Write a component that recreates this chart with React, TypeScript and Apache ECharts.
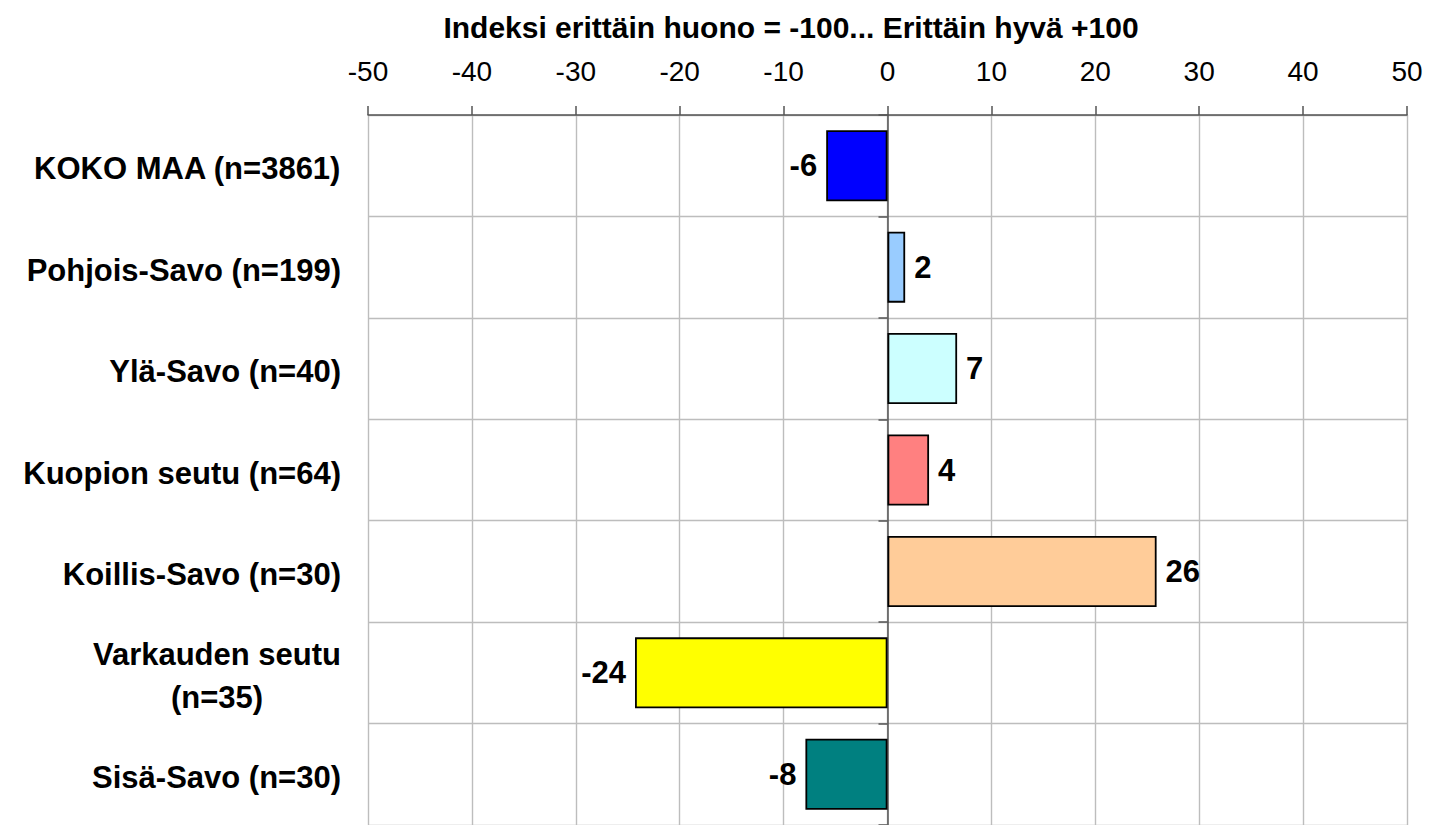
import React, { useEffect, useRef } from "react";
import * as echarts from "echarts";

const categories = [
  "KOKO MAA (n=3861)",
  "Pohjois-Savo (n=199)",
  "Ylä-Savo (n=40)",
  "Kuopion seutu (n=64)",
  "Koillis-Savo (n=30)",
  "Varkauden seutu\n(n=35)",
  "Sisä-Savo (n=30)",
];
const values = [-5.9, 1.7, 6.7, 4.0, 25.9, -24.3, -7.9];
const colors = ["#0000FF", "#99CCFF", "#CCFFFF", "#FF8080", "#FFCC99", "#FFFF00", "#008080"];
const titleText = "Indeksi erittäin huono = -100... Erittäin hyvä +100";
const axisMin = -50;
const axisMax = 50;
const axisStep = 10;

const FONT = '"Liberation Sans", Arial, Helvetica, sans-serif';

export default function App() {
  const ref = useRef<HTMLDivElement>(null);
  useEffect(() => {
    if (!ref.current) return;
    const chart = echarts.init(ref.current, null, { renderer: "svg" });
    chart.setOption({
      animation: false,
      backgroundColor: "#ffffff",
      graphic: [
        {
          type: "text",
          x: 791,
          y: 27,
          style: {
            text: titleText,
            fill: "#000",
            font: `bold 30px ${FONT}`,
            textAlign: "center",
            textVerticalAlign: "middle",
          },
        },
      ],
      grid: { left: 368, right: 22, top: 115, bottom: -8, containLabel: false },
      xAxis: {
        type: "value",
        position: "top",
        min: axisMin,
        max: axisMax,
        interval: axisStep,
        axisLine: { show: true, onZero: false, lineStyle: { color: "#555", width: 1.5 } },
        axisTick: { show: true, length: 9, inside: false, lineStyle: { color: "#555", width: 1.5 } },
        axisLabel: { show: true, margin: 30, fontSize: 28, fontFamily: FONT, color: "#000" },
        splitLine: { show: true, lineStyle: { color: "#bdbdbd", width: 1.4 } },
      },
      yAxis: [
        {
          type: "category",
          data: categories,
          inverse: true,
          axisLine: { show: false, onZero: false },
          axisTick: { show: false },
          splitLine: { show: true, lineStyle: { color: "#bdbdbd", width: 1.4 } },
          axisLabel: {
            margin: 27,
            align: "right",
            padding: [6, 0, 0, 0],
            formatter: (v: string) =>
              v
                .split("\n")
                .map((s) => `{c|${s}}`)
                .join("\n"),
            rich: {
              c: {
                align: "center",
                fontSize: 31,
                fontWeight: "bold",
                fontFamily: FONT,
                color: "#000",
                lineHeight: 43,
              },
            },
          },
        },
        {
          type: "category",
          data: categories,
          inverse: true,
          position: "left",
          axisLine: { show: true, onZero: true, lineStyle: { color: "#555", width: 1.5 } },
          axisTick: { show: true, length: 9, inside: false, lineStyle: { color: "#555", width: 1.5 } },
          axisLabel: { show: false },
          splitLine: { show: false },
        },
      ],
      series: [
        {
          type: "bar",
          yAxisIndex: 0,
          barWidth: "70%",
          data: values.map((v, i) => ({
            value: v,
            itemStyle: { color: colors[i], borderColor: "#000", borderWidth: 1.8 },
            label: { position: v < 0 ? "left" : "right" },
          })),
          label: {
            show: true,
            distance: 9,
            fontSize: 31,
            fontWeight: "bold",
            fontFamily: FONT,
            color: "#000",
            formatter: (p: any) => String(Math.round(p.value)),
          },
        },
      ],
    });
    return () => chart.dispose();
  }, []);
  return (
    <div
      ref={ref}
      style={{ position: "fixed", left: 0, top: 0, width: 1429, height: 825, background: "#fff" }}
    />
  );
}
